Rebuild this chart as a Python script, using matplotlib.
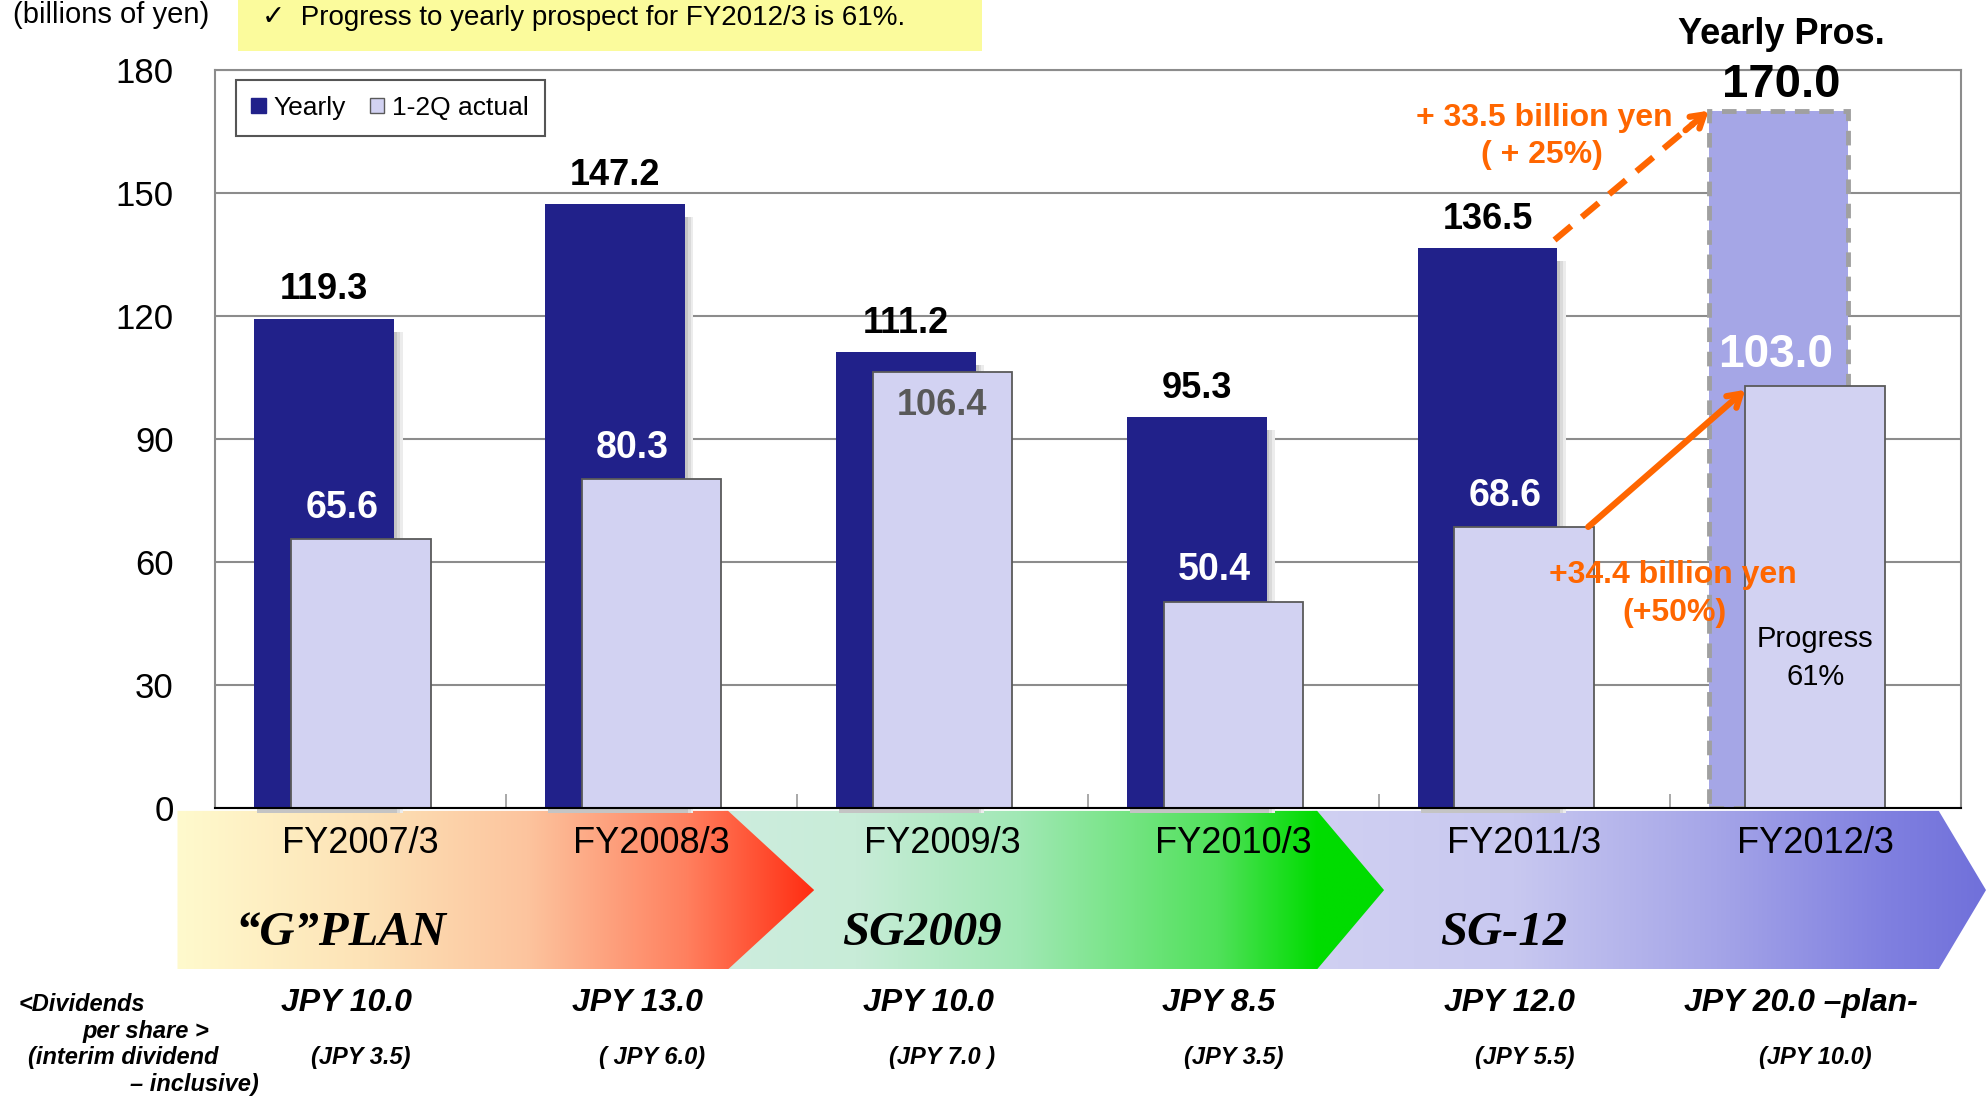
import matplotlib.pyplot as plt
import numpy as np
from matplotlib.patches import Polygon, Rectangle

categories = ['FY2007/3', 'FY2008/3', 'FY2009/3', 'FY2010/3', 'FY2011/3', 'FY2012/3']
yearly = [119.3, 147.2, 111.2, 95.3, 136.5, 170.0]
actual_1h = [65.6, 80.3, 106.4, 50.4, 68.6, 103.0]
dividends = ['JPY 10.0', 'JPY 13.0', 'JPY 10.0', 'JPY 8.5', 'JPY 12.0', 'JPY 20.0 \u2013plan-']
interim = ['(JPY 3.5)', '( JPY 6.0)', '(JPY 7.0 )', '(JPY 3.5)', '(JPY 5.5)', '(JPY 10.0)']
plans = ['\u201cG\u201dPLAN', 'SG2009', 'SG-12']
plan_start = [0, 2, 4]   # first category of each plan

NAVY = '#21218A'
LIGHT = '#D2D2F2'
PROS = '#A5A6E6'
ORANGE = '#FF6600'
SANS = ['Liberation Sans', 'DejaVu Sans']

plt.rcParams['font.family'] = SANS

fig = plt.figure(figsize=(19.86, 10.96), dpi=100)
pos = [0.1084, 0.2624, 0.8788, 0.674]
ax = fig.add_axes(pos, zorder=2)
xlim = (-0.5, len(categories) - 0.5)
ylim = (0, 180)

# background axes sharing the same data coordinates, covering the whole figure
sx = (xlim[1] - xlim[0]) / pos[2]
sy = (ylim[1] - ylim[0]) / pos[3]
bg = fig.add_axes([0, 0, 1, 1], zorder=1)
bg.set_xlim(xlim[0] - pos[0] * sx, xlim[0] + (1 - pos[0]) * sx)
bg.set_ylim(ylim[0] - pos[1] * sy, ylim[0] + (1 - pos[1]) * sy)
bg.axis('off')
fig_right = bg.get_xlim()[1]

x = np.arange(len(categories))
w = 0.48
dx = -0.126

# soft shadow behind the yearly bars
for off, col in [(0.03, '#ECECEC'), (0.02, '#DADADA'), (0.01, '#C4C4C4')]:
    ax.bar(x[:-1] + dx + off, np.array(yearly[:-1]) - 2, bottom=-1.2, width=w,
           color=col, zorder=2, clip_on=False)
ycolors = [NAVY] * (len(yearly) - 1) + [PROS]
ax.bar(x + dx, yearly, width=w, color=ycolors, zorder=3)
ax.bar(x[-1] + dx, yearly[-1], width=w, fill=False, edgecolor='#A0A0A0',
       linewidth=3.5, linestyle=(0, (3, 2)), zorder=3.5)
ax.bar(x, actual_1h, width=w, color=LIGHT, edgecolor='#5A5A5A', linewidth=1.3, zorder=4)

for i, v in enumerate(yearly[:-1]):
    ax.text(i + dx, v + 2.8, f'{v:.1f}', ha='center', va='bottom',
            fontsize=26, fontweight='bold', zorder=6)
ax.text(x[-1] + dx + 0.01, yearly[-1] + 1.0, f'{yearly[-1]:.1f}', ha='center', va='bottom',
        fontsize=34, fontweight='bold', zorder=6, clip_on=False)
ax.text(x[-1] + dx + 0.01, 188.7, 'Yearly Pros.', ha='center', va='center',
        fontsize=26, fontweight='bold', clip_on=False)

for i, v in enumerate(actual_1h):
    if v > yearly[i] - 10:
        ax.text(i, v - 8.2, f'{v:.1f}', ha='center', va='center',
                fontsize=26, fontweight='bold', color='#595959', zorder=6)
    elif i == len(actual_1h) - 1:
        ax.text(i - 0.135, v + 7.6, f'{v:.1f}', ha='center', va='center',
                fontsize=33, fontweight='bold', color='white', zorder=6)
    else:
        ax.text(i - 0.065, v + 7.6, f'{v:.1f}', ha='center', va='center',
                fontsize=27, fontweight='bold', color='white', zorder=6)

ax.text(x[-1], 41.4, 'Progress', ha='center', va='center', fontsize=21, zorder=6)
ax.text(x[-1], 32.1, '61%', ha='center', va='center', fontsize=21, zorder=6)

# orange arrows
ax.annotate('', xy=(x[-1] - w / 2, actual_1h[-1] - 1), xytext=(x[-2] + w / 2 - 0.02, actual_1h[-2]),
            arrowprops=dict(arrowstyle='->,head_length=0.9,head_width=0.55', lw=4.5,
                            color=ORANGE, shrinkA=0, shrinkB=0), zorder=7)
x0, y0 = x[-2] + dx + w / 2 - 0.01, yearly[-2] + 2
x1, y1 = x[-1] + dx - w / 2, yearly[-1]
ax.plot([x0, x0 + (x1 - x0) * 0.9], [y0, y0 + (y1 - y0) * 0.9], color=ORANGE, lw=4.5,
        dashes=(3.5, 2.2), zorder=7, clip_on=False)
ax.annotate('', xy=(x1, y1), xytext=(x0 + (x1 - x0) * 0.85, y0 + (y1 - y0) * 0.85),
            arrowprops=dict(arrowstyle='->,head_length=0.9,head_width=0.55', lw=4.5,
                            color=ORANGE, shrinkA=0, shrinkB=0), zorder=7)
diff_y = yearly[-1] - yearly[-2]
diff_a = actual_1h[-1] - actual_1h[-2]
ax.text(4.07, 168.3, f'+ {diff_y:.1f} billion yen', ha='center', va='center',
        fontsize=23, fontweight='bold', color=ORANGE, zorder=8, clip_on=False)
ax.text(4.06, 159.3, f'( + {diff_y / yearly[-2] * 100:.0f}%)', ha='center', va='center',
        fontsize=23, fontweight='bold', color=ORANGE, zorder=8)
ax.text(4.51, 56.8, f'+{diff_a:.1f} billion yen', ha='center', va='center',
        fontsize=23, fontweight='bold', color=ORANGE, zorder=8)
ax.text(4.515, 47.5, f'(+{diff_a / actual_1h[-2] * 100:.0f}%)', ha='center', va='center',
        fontsize=23, fontweight='bold', color=ORANGE, zorder=8)

# axes styling
ax.set_xlim(xlim)
ax.set_ylim(ylim)
ax.set_yticks(np.arange(0, 181, 30))
ax.tick_params(axis='y', length=0, pad=30, labelsize=25)
ax.set_xticks(np.arange(0.5, len(categories) - 0.5, 1))
ax.set_xticklabels([])
ax.tick_params(axis='x', direction='in', length=10, color='#9A9A9A', width=1.2)
ax.grid(axis='y', color='#8C8C8C', linewidth=1.5)
ax.set_axisbelow(True)
for s in ['top', 'right', 'left']:
    ax.spines[s].set_color('#8C8C8C')
    ax.spines[s].set_linewidth(1.5)
ax.spines['bottom'].set_color('black')
ax.spines['bottom'].set_linewidth(1.5)
ax.spines['bottom'].set_zorder(5)

leg = ax.legend(handles=[Rectangle((0, 0), 1, 1, color=NAVY),
                         Rectangle((0, 0), 1, 1, facecolor=LIGHT, edgecolor='#5A5A5A')],
                labels=['Yearly', '1-2Q actual'], loc='upper left',
                bbox_to_anchor=(0.0116, 0.986), borderaxespad=0, ncol=2, fontsize=19,
                handlelength=0.55, handleheight=0.55, handletextpad=0.3,
                columnspacing=0.9, fancybox=False, framealpha=1, borderpad=0.6)
leg.get_frame().set_edgecolor('#555555')
leg.get_frame().set_linewidth(1.5)
leg.set_zorder(9)

# plan chevrons with gradients (earlier plans drawn on top)
top, bot = -0.6, -39.2
mid = (top + bot) / 2
chevrons = [(-0.63, 1.263, 1.559), (1.25, 3.288, 3.518), (3.27, 5.425, fig_right)]
grads = [
    [(0, (255, 250, 205)), (0.3, (253, 226, 182)), (0.55, (252, 196, 158)),
     (0.8, (255, 128, 95)), (1, (255, 45, 18))],
    [(0, (205, 237, 222)), (0.2, (200, 236, 216)), (0.45, (160, 232, 180)),
     (0.75, (80, 225, 90)), (0.9, (0, 220, 0)), (1, (0, 220, 0))],
    [(0, (208, 208, 242)), (0.3, (200, 200, 240)), (0.6, (165, 165, 232)),
     (0.85, (128, 128, 224)), (1, (112, 112, 218))],
]
for k, ((l, r, t), g) in enumerate(zip(chevrons, grads)):
    poly = Polygon([(l, top), (r, top), (t, mid), (r, bot), (l, bot)], closed=True,
                   facecolor='none', edgecolor='none')
    bg.add_patch(poly)
    stops = np.array([s for s, _ in g])
    cols = np.array([c for _, c in g]) / 255
    xs = np.linspace(0, 1, 400)
    img = np.stack([np.interp(xs, stops, cols[:, c]) for c in range(3)], axis=-1)[None, :, :]
    im = bg.imshow(img, extent=(l, t, bot, top), aspect='auto', zorder=len(chevrons) - k,
                   interpolation='bilinear')
    im.set_clip_path(poly)
bg.set_xlim(bg.get_xlim())

for i, c in enumerate(categories):
    bg.text(i, -8.6, c, ha='center', va='center', fontsize=26, zorder=10)
for p, s in zip(plans, plan_start):
    bg.text(s - 0.07, -30.4, p, ha='center', va='center', fontsize=35, fontweight='bold',
            fontstyle='italic', family=['Liberation Serif', 'DejaVu Serif'], zorder=10)

for i in range(len(categories)):
    bg.text(i - 0.05, -47.4, dividends[i], ha='center', va='center', fontsize=23,
            fontweight='bold', fontstyle='italic', zorder=10)
    bg.text(i, -60.6, interim[i], ha='center', va='center', fontsize=17,
            fontweight='bold', fontstyle='italic', zorder=10)

left_lines = [('<Dividends', 15, 793), ('per share >', 65, 814),
              ('(interim dividend', 22, 835), ('\u2013 inclusive)', 103, 856)]
for t, px, py in left_lines:
    fig.text(px / 1568, 1 - py / 865, t, ha='left', va='center', fontsize=17,
             fontweight='bold', fontstyle='italic')

# header
fig.patches.append(Rectangle((188 / 1568, 1 - 40 / 865), (775 - 188) / 1568, 40 / 865,
                             transform=fig.transFigure, facecolor='#FBFB9C',
                             edgecolor='none', zorder=0))
fig.text(207 / 1568, 1 - 14 / 865, '\u2713  Progress to yearly prospect for FY2012/3 is 61%.',
         ha='left', va='center', fontsize=20, family=SANS)
fig.text(10 / 1568, 1 - 12 / 865, '(billions of yen)', ha='left', va='center', fontsize=21)

fig.savefig('out.png', dpi=100)
